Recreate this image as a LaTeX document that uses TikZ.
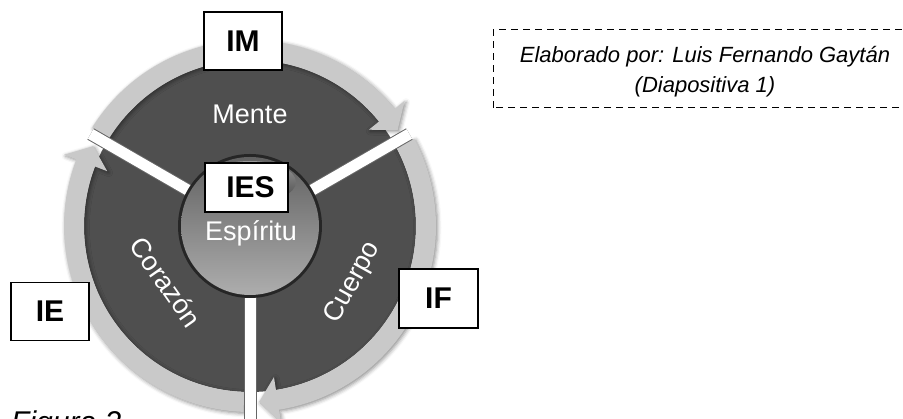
\documentclass[tikz,border=0pt]{standalone}
\usepackage{fontspec}
\setmainfont{Liberation Sans}
\usetikzlibrary{shadows.blur}
\definecolor{diskgray}{HTML}{4F4F4F}
\definecolor{bandgray}{HTML}{C9C9C9}
\begin{document}
\begin{tikzpicture}[x=1pt, y=1pt,
  tag/.style={draw, line width=1.5pt, fill=white, inner sep=0pt,
    minimum width=78pt, minimum height=58pt, font=\fontsize{30}{30}\selectfont\bfseries},
  part/.style={text=white, font=\fontsize{27}{27}\selectfont},
  ringband/.style={fill=bandgray, blur shadow={shadow xshift=1.5pt, shadow yshift=-1.5pt,
    shadow blur radius=4pt, shadow opacity=45}}]
  \useasboundingbox (0,0) rectangle (903,419);
  \coordinate (c) at (250,193);
  \fill[diskgray] (c) circle[radius=166];
  \begin{scope}[shift={(c)}]
    \foreach \s/\t in {148/33, 28/-87, -92/-207}
      \fill[ringband] (\s:186) arc[start angle=\s, end angle=\t+6, radius=186]
        -- (\t+6:199) -- (\t:176) -- (\t+6:153) -- (\t+6:166)
        arc[start angle=\t+6, end angle=\s, radius=166] -- cycle;
    \foreach \a/\r in {30/184, 150/184, 270/240} {
      \draw[line width=13pt, black!60] (\a:60) -- (\a:\r);
      \draw[line width=11pt, white] (\a:60) -- (\a:\r);
    }
  \end{scope}
  \fill[black!85] (c) circle[radius=72];
  \shade[top color=black!62, middle color=black!74, bottom color=black!32] (c) circle[radius=69];
  \shade[top color=black!40, bottom color=black!72] ([yshift=44pt]c) ellipse[x radius=46, y radius=21];

  \node[part] (mente) at (250,305) {Mente};
  \node[part, rotate=61] (cuerpo) at (353,136) {Cuerpo};
  \node[part, rotate=-55] (corazon) at (166,137) {Corazón};
  \node[part] (espiritu) at (251,186) {Espíritu};

  \node[tag] (im) at (243,378) {IM};
  \node[tag, minimum width=83pt, minimum height=49pt] (ies) at (246.5,231.5) {\hspace*{8pt}IES};
  \node[tag] (ie) at (50,107.5) {IE};
  \node[tag, minimum width=79pt, minimum height=59pt] (if) at (438.5,120.5) {IF};

  \draw[line width=1pt, dash pattern=on 7pt off 5pt] (493,311) rectangle (912,389);
  \node[font=\fontsize{22}{30}\selectfont\itshape, align=center] (credit) at (705,347)
    {Elaborado por: Luis Fernando Gaytán\\(Diapositiva 1)};
  \node[anchor=base west, inner sep=0pt, font=\fontsize{30}{30}\selectfont\itshape] (fig) at (11,-14) {Figura 2};
\end{tikzpicture}
\end{document}
